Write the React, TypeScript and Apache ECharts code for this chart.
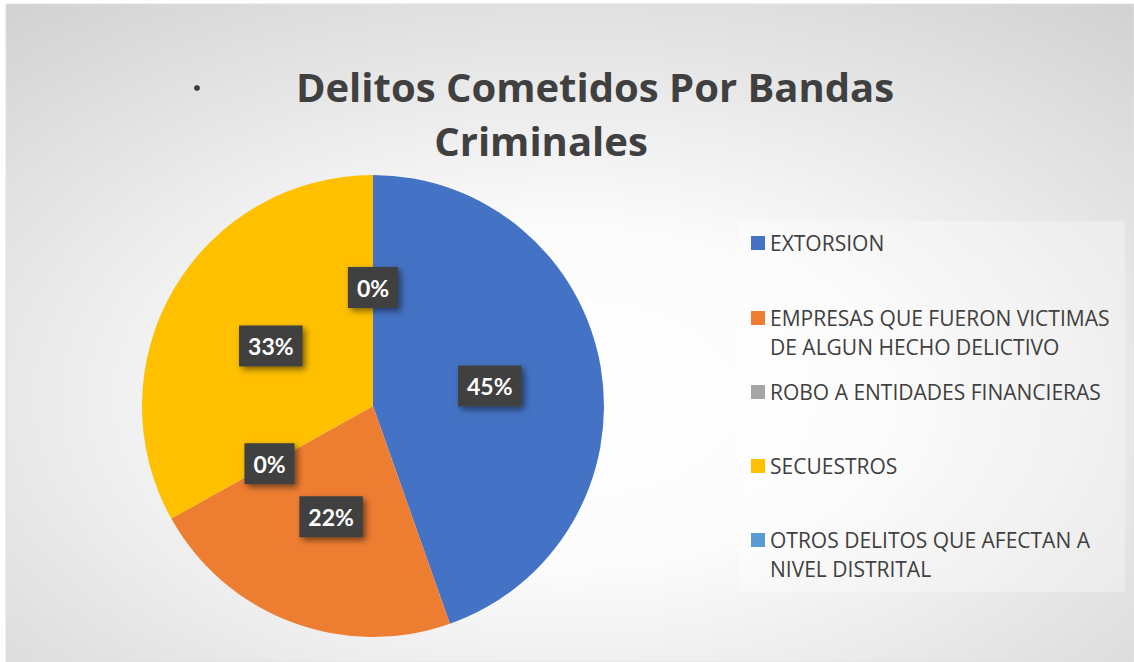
import React, { useEffect, useRef } from "react";
import * as echarts from "echarts";

const categories = [
  "EXTORSION",
  "EMPRESAS QUE FUERON VICTIMAS DE ALGUN HECHO DELICTIVO",
  "ROBO A ENTIDADES FINANCIERAS",
  "SECUESTROS",
  "OTROS DELITOS QUE AFECTAN A NIVEL DISTRITAL",
];
const legendLines = [
  ["EXTORSION"],
  ["EMPRESAS QUE FUERON VICTIMAS", "DE ALGUN HECHO DELICTIVO"],
  ["ROBO A ENTIDADES FINANCIERAS"],
  ["SECUESTROS"],
  ["OTROS DELITOS QUE AFECTAN A", "NIVEL DISTRITAL"],
];
const values = [44.6, 22.3, 0, 33.1, 0];
const colors = ["#4472C4", "#ED7D31", "#A5A5A5", "#FFC000", "#5B9BD5"];
const titleLine1 = "Delitos Cometidos Por Bandas";
const titleLine2 = "Criminales";

export default function App() {
  const ref = useRef<HTMLDivElement>(null);
  useEffect(() => {
    document.body.style.margin = "0";
    const chart = echarts.init(ref.current!, undefined, { renderer: "svg" });
    const font = "Lato, 'Open Sans', sans-serif";
    const wideFont = "'Open Sans', Lato, sans-serif";
    const legendCenters = [243, 318, 392, 466, 540];
    const legends = categories.map((name, i) => {
      const multi = legendLines[i].length > 1;
      return {
        show: true,
        orient: "vertical",
        left: 751,
        top: multi ? legendCenters[i] - 43.5 : legendCenters[i] - 14.5,
        padding: 0,
        itemWidth: 14,
        itemHeight: 14,
        icon: "rect",
        selectedMode: false,
        data: [name],
        formatter: () => (multi ? "\n" + legendLines[i].join("\n") : legendLines[i][0]),
        textStyle: { color: "#404040", fontSize: 21, lineHeight: 29, fontFamily: wideFont },
      };
    });
    chart.setOption({
      animation: false,
      color: colors,
      backgroundColor: "transparent",
      legend: legends,
      graphic: [
        {
          type: "rect",
          z: -100,
          shape: { x: 6, y: 4, width: 1128, height: 658 },
          style: {
            fill: new echarts.graphic.RadialGradient(0.5, 0.6, 1.05, [
              { offset: 0, color: "#ffffff" },
              { offset: 0.25, color: "#fbfbfb" },
              { offset: 0.95, color: "#c0c0c0" },
              { offset: 1, color: "#bdbdbd" },
            ]),
            stroke: "#e0e0e0",
            lineWidth: 1,
          },
        },
        {
          type: "rect",
          z: -90,
          shape: { x: 739, y: 221, width: 386, height: 371 },
          style: { fill: "rgba(255,255,255,0.3)" },
        },
        {
          type: "circle",
          shape: { cx: 197, cy: 88, r: 3 },
          style: { fill: "#404040" },
        },
        {
          type: "text",
          x: 595,
          y: 86,
          style: {
            text: titleLine1,
            textAlign: "center",
            textVerticalAlign: "middle",
            fill: "#404040",
            fontSize: 40,
            fontWeight: "bold",
            fontFamily: wideFont,
          },
        },
        {
          type: "text",
          x: 541,
          y: 140,
          style: {
            text: titleLine2,
            textAlign: "center",
            textVerticalAlign: "middle",
            fill: "#404040",
            fontSize: 40,
            fontWeight: "bold",
            fontFamily: wideFont,
          },
        },
      ],
      series: [
        {
          type: "pie",
          center: [373, 406],
          radius: 231,
          startAngle: 90,
          clockwise: true,
          avoidLabelOverlap: false,
          data: categories.map((name, i) => ({ name, value: values[i] })),
          itemStyle: { borderWidth: 0 },
          labelLine: { show: false },
          label: {
            show: true,
            position: "inside",
            formatter: (p: any) => Math.round(p.percent) + "%",
            color: "#ffffff",
            fontWeight: "bold",
            fontSize: 23,
            lineHeight: 23,
            fontFamily: font,
            backgroundColor: "#404040",
            padding: [9, 9, 9, 9],
            shadowColor: "rgba(0,0,0,0.5)",
            shadowBlur: 6,
            shadowOffsetX: 3,
            shadowOffsetY: 3,
          },
          emphasis: { disabled: true },
        },
      ],
    });
    return () => chart.dispose();
  }, []);
  return (
    <div
      ref={ref}
      style={{ position: "absolute", left: 0, top: 0, width: 1134, height: 662, background: "#ffffff" }}
    />
  );
}
